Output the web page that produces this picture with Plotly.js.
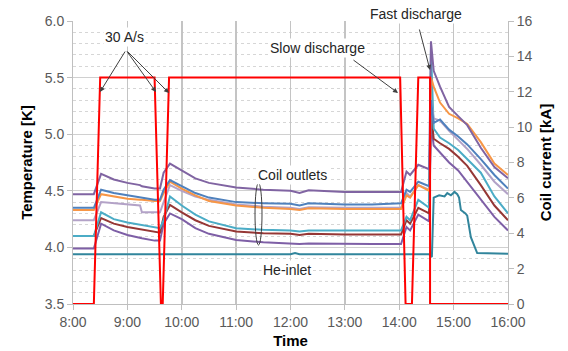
<!DOCTYPE html>
<html><head><meta charset="utf-8">
<script src="https://cdn.plot.ly/plotly-3.0.1.min.js"></script>
<style>html,body{margin:0;padding:0;background:#fff}#chart{width:568px;height:351px}</style>
</head><body><div id="chart"></div>
<script>
// shared time axis for coil-outlet temperatures
const times = ["08:00","08:23","08:31","08:45","09:00","09:14","09:16","09:30","09:36","09:40","09:47","10:00","10:15","10:30","11:00","11:30","12:00","12:10","12:20","13:00","13:30","14:02","14:08","14:12","14:21","14:33","14:35","14:38","14:45","14:55","15:05","15:15","15:30","15:45","16:00"];
const purpleTop = [4.47,4.47,4.65,4.60,4.57,4.55,4.54,4.52,4.52,4.66,4.74,4.68,4.61,4.57,4.53,4.51,4.50,4.48,4.505,4.49,4.49,4.49,4.67,4.64,4.73,4.69,5.82,5.56,5.42,5.24,5.16,5.08,4.88,4.71,4.61];
const blue      = [4.35,4.35,4.51,4.48,4.46,4.44,4.44,4.42,4.42,4.51,4.595,4.54,4.48,4.44,4.40,4.39,4.385,4.37,4.39,4.38,4.38,4.39,4.51,4.49,4.58,4.54,5.30,5.10,5.13,5.04,4.98,4.91,4.78,4.64,4.52];
const orange    = [4.33,4.33,4.47,4.45,4.43,4.42,4.42,4.41,4.41,4.48,4.58,4.52,4.46,4.41,4.37,4.35,4.34,4.33,4.345,4.34,4.34,4.34,4.46,4.44,4.55,4.50,5.50,5.42,5.28,5.18,5.14,5.09,4.93,4.74,4.64];
const lavender  = [4.24,4.24,4.40,4.39,4.38,4.37,4.31,4.31,4.31,4.40,4.55,4.50,4.45,4.42,4.38,4.36,4.35,4.34,4.355,4.35,4.35,4.35,4.48,4.45,4.55,4.51,5.30,5.14,5.12,5.03,4.95,4.87,4.73,4.58,4.47];
const teal      = [4.10,4.10,4.31,4.25,4.22,4.20,4.20,4.18,4.17,4.24,4.45,4.37,4.29,4.23,4.17,4.155,4.15,4.14,4.15,4.15,4.15,4.15,4.27,4.24,4.42,4.35,5.75,5.05,4.97,4.92,4.86,4.78,4.66,4.45,4.30];
const darkRed   = [4.10,4.10,4.26,4.21,4.18,4.16,4.155,4.14,4.13,4.27,4.375,4.31,4.24,4.19,4.14,4.125,4.12,4.11,4.12,4.115,4.115,4.115,4.24,4.21,4.35,4.30,5.20,4.96,4.92,4.87,4.80,4.72,4.55,4.37,4.24];
const purpleLow = [3.99,3.99,4.21,4.15,4.11,4.08,4.08,4.06,4.06,4.21,4.30,4.25,4.17,4.12,4.065,4.045,4.035,4.03,4.035,4.03,4.03,4.03,4.18,4.15,4.29,4.23,5.10,4.90,4.84,4.75,4.68,4.58,4.42,4.27,4.15];
// He-inlet temperature
const heTimes = ["08:00","09:00","10:00","11:00","12:00","12:05","12:10","13:00","14:00","14:33","14:36","14:38","14:44","14:50","14:53","14:57","15:01","15:04","15:06","15:08","15:13","15:15","15:19","15:23","15:26","16:00"];
const heInlet = [3.94,3.94,3.94,3.94,3.94,3.95,3.94,3.94,3.94,3.94,3.915,4.44,4.46,4.45,4.48,4.46,4.49,4.47,4.44,4.33,4.30,4.28,4.09,4.00,3.95,3.945];
// coil current
const curTimes = ["08:00","08:23","08:30","09:30","09:37","09:39","09:46","14:01","14:07","14:14","14:21","14:34","14:34","16:00"];
const current  = [0,0,12.8,12.8,0,0,12.8,12.8,0,0,12.8,12.8,0,0];

const D = t => "2000-01-01 " + t;
const mk = (name, y, color, t) => ({x:(t||times).map(D), y:y, name:name, type:'scatter', mode:'lines', line:{color:color, width:2}, xaxis:'x', yaxis:'y'});
const data = [
  mk('He-inlet', heInlet, '#31859C', heTimes),
  mk('TC7', purpleLow, '#7E5FA6'),
  mk('TC6', darkRed, '#953735'),
  mk('TC5', teal, '#4BACC6'),
  mk('TC4', lavender, '#B3A2C7'),
  mk('TC3', orange, '#F79646'),
  mk('TC2', blue, '#4F81BD'),
  mk('TC1', purpleTop, '#8064A2'),
  {x:curTimes.map(D), y:current, name:'Current', type:'scatter', mode:'lines', line:{color:'#FF0000', width:2}, xaxis:'x', yaxis:'y2'}
];
const FONT = 'Liberation Sans, Arial, sans-serif';
const tickf = {family:FONT, size:14, color:'#595959'};
const titf = {family:FONT, size:15, color:'#000', weight:'bold'};
const af = {family:FONT, size:14, color:'#262626'};
const lbl = (x,y,text) => ({xref:'paper', yref:'paper', x:x, y:y, xanchor:'center', yanchor:'middle', text:text, showarrow:false, font:af, bgcolor:'#fff'});
const arr = (x,y,ax,ay) => ({xref:'paper', yref:'paper', x:x, y:y, ax:ax, ay:ay, axref:'pixel', ayref:'pixel', text:'', showarrow:true, arrowhead:2, arrowsize:1, arrowwidth:1, arrowcolor:'#404040'});
const layout = {
  width:568, height:351, margin:{l:73, r:60, t:21, b:47},
  paper_bgcolor:'#fff', plot_bgcolor:'#fff', showlegend:false,
  xaxis:{type:'date', range:[D('08:00'), D('16:00')], dtick:3600000, tickformat:'%-H:%M', tickfont:tickf,
    showgrid:true, gridcolor:'#c4c4c4', gridwidth:1.5, ticks:'outside', ticklen:5, tickcolor:'#bfbfbf',
    showline:true, linecolor:'#bfbfbf', zeroline:false, title:{text:'Time', font:titf, standoff:6}},
  yaxis:{range:[3.5,6.0], dtick:0.5, tickformat:'.1f', tickfont:tickf, showgrid:true, gridcolor:'#d0d0d0',
    minor:{dtick:0.1, showgrid:true, gridcolor:'#d6d6d6', griddash:'dot', gridwidth:1},
    ticks:'outside', ticklen:5, tickcolor:'#bfbfbf', showline:true, linecolor:'#bfbfbf', zeroline:false,
    title:{text:'Temperature [K]', font:titf, standoff:8}},
  yaxis2:{overlaying:'y', side:'right', range:[0,16], dtick:2, tickfont:tickf, showgrid:false, zeroline:false,
    ticks:'outside', ticklen:5, tickcolor:'#bfbfbf', showline:true, linecolor:'#bfbfbf',
    title:{text:'Coil current [kA]', font:titf, standoff:8}},
  annotations:[
    lbl(0.1195,0.943,'30 A/s'),
    arr(0.0621,0.749,26,-42), arr(0.1908,0.749,-30,-42), arr(0.2207,0.7456,-43,-43),
    lbl(0.5632,0.9046,'Slow discharge'),
    arr(0.7471,0.7456,-46,-34),
    lbl(0.7885,1.0247,'Fast discharge'),
    arr(0.8207,0.8269,-11,-42),
    lbl(0.5057,0.4558,'Coil outlets'),
    lbl(0.492,0.12,'He-inlet')
  ],
  shapes:[{type:'circle', xref:'paper', yref:'paper', x0:0.4184, x1:0.4345, y0:0.2085, y1:0.4276, line:{color:'#404040', width:1}}]
};
Plotly.newPlot('chart', data, layout, {displayModeBar:false, staticPlot:true});
</script></body></html>
